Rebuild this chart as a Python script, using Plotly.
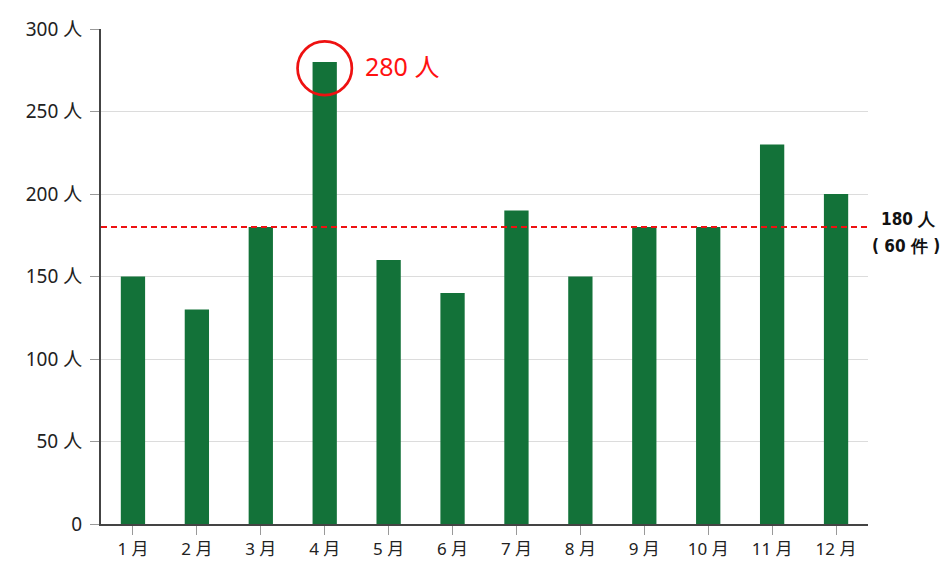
import plotly.graph_objects as go

months = ["1 月", "2 月", "3 月", "4 月", "5 月", "6 月", "7 月", "8 月", "9 月", "10 月", "11 月", "12 月"]
people = [150, 130, 180, 280, 160, 140, 190, 150, 180, 180, 230, 200]
y_ticks = [0, 50, 100, 150, 200, 250, 300]
y_tick_text = ["0", "50 人", "100 人", "150 人", "200 人", "250 人", "300 人"]
target_people = 180
target_cases = 60

peak_idx = people.index(max(people))

fig = go.Figure()
fig.add_trace(go.Bar(x=list(range(len(months))), y=people, marker_color="#137239",
                     marker_line_width=0, width=0.38, hoverinfo="skip"))

font_main = "Noto Sans, Noto Sans CJK JP, sans-serif"

# page body has an 8px margin; compensate so the plot lands where the reference does
fig.update_layout(
    width=942, height=562,
    margin=dict(l=93, r=82, t=21, b=46, autoexpand=False),
    plot_bgcolor="white", paper_bgcolor="white",
    showlegend=False,
    font=dict(family=font_main, size=16, color="#222"),
    xaxis=dict(
        range=[-0.5, len(months) - 0.5], automargin=False,
        tickmode="array", tickvals=list(range(len(months))), ticktext=months,
        showline=True, linecolor="#444", linewidth=2,
        ticks="outside", ticklen=9, tickcolor="#999", tickwidth=1,
        showgrid=False, tickfont=dict(size=17, color="#222"),
    ),
    yaxis=dict(
        range=[0, 300], automargin=False,
        tickmode="array", tickvals=y_ticks, ticktext=y_tick_text,
        showline=True, linecolor="#444", linewidth=2,
        ticks="outside", ticklen=9, tickcolor="#999", tickwidth=1,
        ticklabelstandoff=4,
        showgrid=True, gridcolor="#dcdcdc", gridwidth=1,
        zeroline=False, tickfont=dict(size=19, color="#222"),
    ),
)

# target dashed line
fig.add_shape(type="line", xref="paper", yref="y", x0=0, x1=1, y0=target_people, y1=target_people,
              line=dict(color="#ee1111", width=2, dash="6px,4px"))

label_font = dict(family="DejaVu Sans Condensed, Liberation Sans Narrow, sans-serif", size=17, color="#111")
fig.add_annotation(xref="paper", yref="y", x=1.0, y=target_people, xanchor="center", yanchor="middle",
                   xshift=40, yshift=8, text=f"<b>{target_people} 人</b>", showarrow=False,
                   font=label_font)
fig.add_annotation(xref="paper", yref="y", x=1.0, y=target_people, xanchor="center", yanchor="middle",
                   xshift=38, yshift=-18.5, text=f"<b>( {target_cases} 件 )</b>", showarrow=False,
                   font=label_font)

# highlight circle on peak
rx = 0.425
ry = 16.3
cy = max(people) - 3.8
fig.add_shape(type="circle", xref="x", yref="y",
              x0=peak_idx - rx, x1=peak_idx + rx, y0=cy - ry, y1=cy + ry,
              line=dict(color="#ee1111", width=2.7))
fig.add_annotation(xref="x", yref="y", x=peak_idx + 0.6, y=cy, xanchor="left", yanchor="middle",
                   text=f"{max(people)} 人", showarrow=False, yshift=2,
                   font=dict(family=font_main, size=25, color="#ff1111"))

fig.write_html("out.html")
